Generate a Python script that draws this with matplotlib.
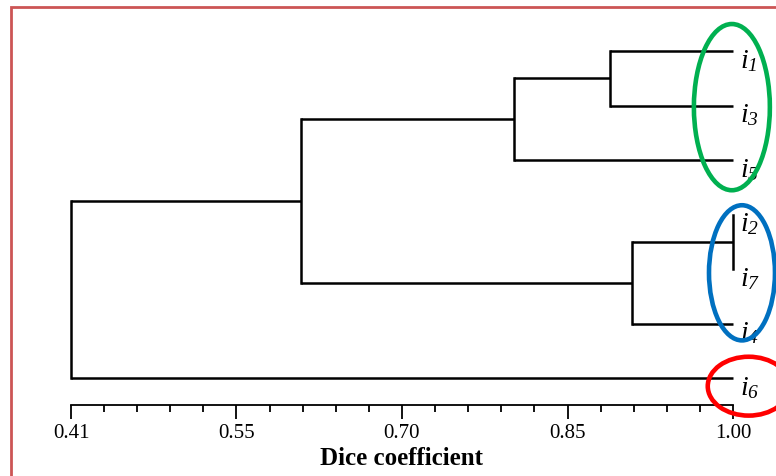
import matplotlib
matplotlib.use("Agg")
import numpy as np
import matplotlib.pyplot as plt
from matplotlib.patches import Ellipse, Rectangle

plt.rcParams['font.family'] = ['Liberation Serif', 'DejaVu Serif']
plt.rcParams['mathtext.fontset'] = 'custom'
plt.rcParams['mathtext.it'] = 'Liberation Serif:italic'
# digits in math are taken from 'rm'; the leaf subscripts are italic
plt.rcParams['mathtext.rm'] = 'Liberation Serif:italic'

# leaves in display order (top to bottom)
leaf_labels = ['1', '3', '5', '2', '7', '4', '6']
# linkage: (cluster a, cluster b, Dice similarity); new clusters numbered from 7
merges = [
    (0, 1, 0.89),
    (7, 2, 0.805),
    (3, 4, 1.00),
    (9, 5, 0.91),
    (8, 10, 0.615),
    (11, 6, 0.41),
]
tick_vals = np.linspace(0.41, 1.0, 5)
tick_labels = ['0.41', '0.55', '0.70', '0.85', '1.00']

fig = plt.figure(figsize=(7.76, 4.77), dpi=100)
ax = fig.add_axes([71 / 776, 1 - 406 / 477, 662 / 776, 396 / 477])

# positions of clusters
ypos = {i: float(i) for i in range(len(leaf_labels))}
xpos = {i: 1.0 for i in range(len(leaf_labels))}
lw = 1.8
for k, (a, b, s) in enumerate(merges):
    cid = len(leaf_labels) + k
    for c in (a, b):
        ax.plot([xpos[c], s], [ypos[c], ypos[c]], color='black', lw=lw,
                solid_capstyle='butt', clip_on=False)
    ax.plot([s, s], [ypos[a], ypos[b]], color='black', lw=lw,
            solid_capstyle='projecting', clip_on=False)
    xpos[cid] = s
    ypos[cid] = (ypos[a] + ypos[b]) / 2

for i, lab in enumerate(leaf_labels):
    ax.annotate(r'$i_{%s}$' % lab, xy=(1.0, i), xytext=(7, 4),
                textcoords='offset pixels', va='top', ha='left',
                fontsize=20, annotation_clip=False)

# highlighted groups (drawn over the labels, as in the original)
ax.add_patch(Ellipse((0.999, 1.03), 0.0677, 3.05, fill=False, zorder=5,
                     edgecolor='#00B050', lw=3.3, clip_on=False))
ax.add_patch(Ellipse((1.008, 4.07), 0.0588, 2.48, fill=False, zorder=5,
                     edgecolor='#0070C0', lw=3.3, clip_on=False))
ax.add_patch(Ellipse((1.014, 6.15), 0.073, 1.08, fill=False, zorder=5,
                     edgecolor='#FF0000', lw=3.3, clip_on=False))

ax.set_xlim(0.41, 1.0)
ax.set_ylim(6 + 27 / 54.5, 6 + 27 / 54.5 - 396 / 54.5)
ax.set_xticks(tick_vals)
ax.set_xticklabels(tick_labels, fontsize=15)
ax.set_xticks(np.linspace(0.41, 1.0, 21), minor=True)
ax.tick_params(axis='x', which='major', length=10, width=1.3, pad=3)
ax.tick_params(axis='x', which='minor', length=5, width=1.3)
ax.set_yticks([])
for side in ('top', 'right', 'left'):
    ax.spines[side].set_visible(False)
ax.spines['bottom'].set_linewidth(1.3)
ax.set_xlabel('Dice coefficient', fontsize=18, fontweight='bold', labelpad=3)

# outer frame
fig.patches.append(Rectangle((11 / 776, -0.1), 1.2, 1.1 - 8 / 477,
                             transform=fig.transFigure, fill=False,
                             edgecolor='#CC5555', lw=2))

fig.savefig('out.png', dpi=100)
